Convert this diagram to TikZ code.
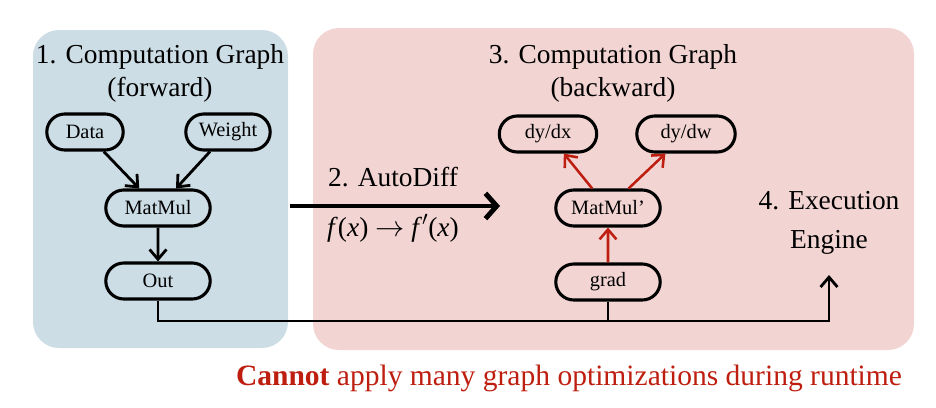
\documentclass[tikz,border=0pt]{standalone}
\usepackage{fontspec}
\setmainfont{Liberation Serif}
\usepackage{amsmath}
\usetikzlibrary{positioning,shapes.misc,arrows.meta}

\definecolor{fwdblue}{HTML}{CCDDE5}
\definecolor{bwdpink}{HTML}{F2D5D3}
\definecolor{gradred}{HTML}{BE1E0F}

\begin{document}
\begin{tikzpicture}[x=0.025cm,y=-0.025cm,>={Straight Barb[length=7pt,width=12pt]}]

	\tikzset{
		op/.style={rounded rectangle,draw,line width=2.2pt,minimum height=0.9cm,
				minimum width=2.75cm,inner sep=2pt,font=\fontsize{14.5}{16}\selectfont},
		title/.style={align=center,font=\fontsize{19.5}{23.5}\selectfont},
		flow/.style={->,line width=2pt},
		gradflow/.style={->,line width=1.8pt,draw=gradred}
	}

	\useasboundingbox (0,0) rectangle (936,408);

	% panels
	\fill[fwdblue,rounded corners=0.65cm] (33,30) rectangle (288,348);
	\fill[bwdpink,rounded corners=0.65cm] (313,28) rectangle (914,350);

	% forward graph
	\node[title] (fwdtitle) at (160,73) {1. Computation Graph\\(forward)};
	\node[op,minimum width=2.05cm] (data) at (85,132) {Data};
	\node[op,minimum width=2.25cm] (weight) at (228,132) {Weight};
	\node[op] (matmul) at (158,208) {MatMul};
	\node[op] (out) at (158,281) {Out};

	\draw[flow] (data) -- (matmul);
	\draw[flow] (weight) -- (matmul);
	\draw[flow] (matmul) -- (out);

	% backward graph
	\node[title] (bwdtitle) at (613,73) {3. Computation Graph\\(backward)};
	\node[op,minimum width=2.575cm] (dydx) at (548,134) {dy/dx};
	\node[op,minimum width=2.6cm] (dydw) at (686,134) {dy/dw};
	\node[op] (matmulgrad) at (608,208) {MatMul’};
	\node[op] (grad) at (608,282) {grad};

	\draw[gradflow] (grad) -- (matmulgrad);
	\draw[gradflow] (matmulgrad) -- (dydx);
	\draw[gradflow] (matmulgrad) -- (dydw);

	% autodiff
	\coordinate (adstart) at (290,206);
	\coordinate (adend) at (500,206);
	\draw[->,line width=3.5pt,>={Straight Barb[length=8pt,width=18pt]}] (adstart) -- (adend);
	\node[title] (autodiff) at (393,177) {2. AutoDiff};
	\node[title] (deriv) at (393,228) {\textit{f}(\textit{x}) $\rightarrow$ \textit{f}$'$(\textit{x})};

	% execution
	\node[title,font=\fontsize{19.5}{28}\selectfont] (exec) at (829,223) {4. Execution\\Engine};
	\coordinate (execin) at (829,275);
	\coordinate (bus) at (608,321);
	\draw[flow] (out.south) |- (bus) -| (execin);
	\draw[line width=2pt] (grad.south) -- (bus);

	\node[font=\fontsize{21}{25}\selectfont,text=gradred] (caption) at (569,378) {\textbf{Cannot} apply many graph optimizations during runtime};
\end{tikzpicture}
\end{document}
